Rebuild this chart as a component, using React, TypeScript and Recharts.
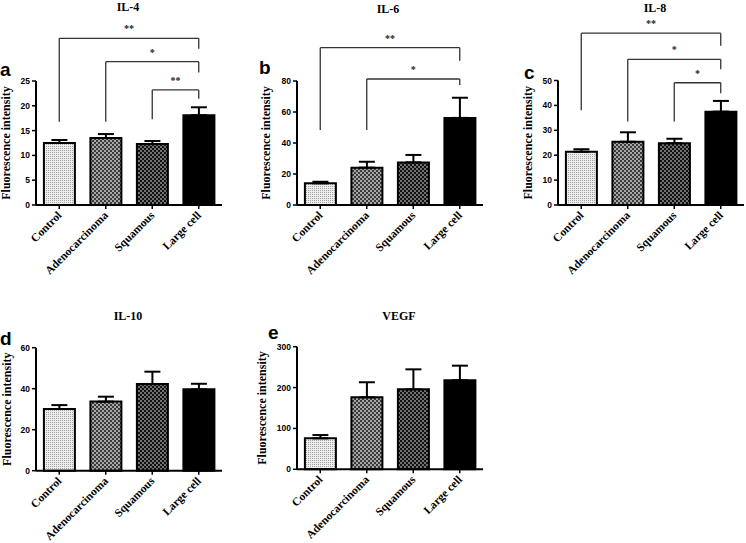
import React from 'react';
import { BarChart, Bar, XAxis, YAxis, ErrorBar, ReferenceLine, Cell } from 'recharts';

const groups = ['Control', 'Adenocarcinoma', 'Squamous', 'Large cell'];

// IL-4
const il4Mean = [12.5, 13.5, 12.3, 18.1];
const il4Sem = [0.6, 0.8, 0.6, 1.6];
const il4Ticks = [0, 5, 10, 15, 20, 25];
const il4Sig = [
  { from: 'Control', to: 'Large cell', top: 33.6, leftEnd: 16.8, rightEnd: 31.5, mark: '**' },
  { from: 'Adenocarcinoma', to: 'Large cell', top: 28.9, leftEnd: 16.8, rightEnd: 26.7, mark: '*' },
  { from: 'Squamous', to: 'Large cell', top: 23.2, leftEnd: 17.3, rightEnd: 21.4, mark: '**' },
];

// IL-6
const il6Mean = [14.0, 24.1, 27.5, 56.2];
const il6Sem = [1.0, 3.8, 4.8, 13.0];
const il6Ticks = [0, 20, 40, 60, 80];
const il6Sig = [
  { from: 'Control', to: 'Large cell', top: 101.5, leftEnd: 48.4, rightEnd: 93.1, mark: '**' },
  { from: 'Adenocarcinoma', to: 'Large cell', top: 81.3, leftEnd: 48.4, rightEnd: 77.4, mark: '*' },
];

// IL-8
const il8Mean = [21.4, 25.4, 24.8, 37.5];
const il8Sem = [1.0, 3.8, 1.8, 4.3];
const il8Ticks = [0, 10, 20, 30, 40, 50];
const il8Sig = [
  { from: 'Control', to: 'Large cell', top: 69, leftEnd: 38.1, rightEnd: 64, mark: '**' },
  { from: 'Adenocarcinoma', to: 'Large cell', top: 58.5, leftEnd: 33.5, rightEnd: 54.5, mark: '*' },
  { from: 'Squamous', to: 'Large cell', top: 49.1, leftEnd: 33.5, rightEnd: 44.9, mark: '*' },
];

// IL-10
const il10Mean = [30.1, 33.7, 42.3, 39.7];
const il10Sem = [1.9, 2.4, 6.0, 2.7];
const il10Ticks = [0, 20, 40, 60];

// VEGF
const vegfMean = [75.8, 176, 195.6, 217.6];
const vegfSem = [8, 37, 49, 36];
const vegfTicks = [0, 100, 200, 300];

const serif = "'Liberation Serif', 'Times New Roman', serif";
const sans = "'Liberation Sans', Arial, sans-serif";

const SlantTick = (props: any) => {
  const { x, y, payload } = props;
  const tx = x + 3;
  const ty = y + 5;
  return (
    <text
      x={tx}
      y={ty}
      transform={`rotate(-45, ${tx}, ${ty})`}
      textAnchor="end"
      fontFamily={serif}
      fontWeight="bold"
      fontSize={11.5}
      fill="#000"
    >
      {payload.value}
    </text>
  );
};

const Patterns = ({ id }: { id: string }) => (
  <defs>
    <pattern id={`${id}-p0`} width="2" height="2" patternUnits="userSpaceOnUse">
      <rect width="2" height="2" fill="#ececec" />
      <rect width="1" height="1" fill="#a4a4a4" />
    </pattern>
    <pattern id={`${id}-p1`} width="4" height="4" patternUnits="userSpaceOnUse">
      <rect width="4" height="4" fill="#a6a6a6" />
      <rect width="2" height="2" fill="#3a3a3a" />
      <rect x="2" y="2" width="2" height="2" fill="#3a3a3a" />
    </pattern>
    <pattern id={`${id}-p2`} width="4" height="4" patternUnits="userSpaceOnUse">
      <rect width="4" height="4" fill="#727272" />
      <rect width="2" height="2" fill="#111" />
      <rect x="2" y="2" width="2" height="2" fill="#111" />
    </pattern>
    <pattern id={`${id}-p3`} width="2" height="2" patternUnits="userSpaceOnUse">
      <rect width="2" height="2" fill="#000" />
    </pattern>
  </defs>
);

const Panel = (props: any) => {
  const { id, mean, sem, ticks, sig = [], left, top, width, height, margin, axisWidth, labelOffset } = props;
  const data = groups.map((name, i) => ({ name, value: mean[i], err: [0, sem[i]] }));

  return (
    <div style={{ position: 'absolute', left, top }}>
      <BarChart width={width} height={height} data={data} margin={margin} barCategoryGap="17%">
        <Patterns id={id} />
        <XAxis
          dataKey="name"
          height={30}
          interval={0}
          tick={<SlantTick />}
          tickSize={4}
          axisLine={{ stroke: '#000', strokeWidth: 2 }}
          tickLine={{ stroke: '#000', strokeWidth: 1.5 }}
        />
        <YAxis
          width={axisWidth}
          domain={[0, ticks[ticks.length - 1]]}
          ticks={ticks}
          interval={0}
          tickSize={4}
          tickMargin={2}
          axisLine={{ stroke: '#000', strokeWidth: 2 }}
          tickLine={{ stroke: '#000', strokeWidth: 1.5 }}
          tick={{ fontFamily: sans, fontWeight: 'bold', fontSize: 8.5, fill: '#000' }}
          label={{
            value: 'Fluorescence intensity',
            angle: -90,
            position: 'insideLeft',
            offset: labelOffset,
            style: { textAnchor: 'middle', fontFamily: serif, fontWeight: 'bold', fontSize: 12, fill: '#000' },
          }}
        />
        <Bar dataKey="value" isAnimationActive={false} stroke="#000" strokeWidth={2}>
          {data.map((d, i) => (
            <Cell key={d.name} fill={`url(#${id}-p${i})`} />
          ))}
          <ErrorBar dataKey="err" width={8} stroke="#000" strokeWidth={2} isAnimationActive={false} />
        </Bar>
        {sig.flatMap((s: any, i: number) => [
          <ReferenceLine
            key={`l${i}`}
            segment={[{ x: s.from, y: s.leftEnd }, { x: s.from, y: s.top }]}
            ifOverflow="visible"
            stroke="#333"
            strokeWidth={1.3}
          />,
          <ReferenceLine
            key={`t${i}`}
            segment={[{ x: s.from, y: s.top }, { x: s.to, y: s.top }]}
            ifOverflow="visible"
            stroke="#333"
            strokeWidth={1.3}
            label={{ value: s.mark, position: 'top', offset: 6, fontFamily: serif, fontWeight: 'bold', fontSize: 10, fill: '#222' }}
          />,
          <ReferenceLine
            key={`r${i}`}
            segment={[{ x: s.to, y: s.top }, { x: s.to, y: s.rightEnd }]}
            ifOverflow="visible"
            stroke="#333"
            strokeWidth={1.3}
          />,
        ])}
      </BarChart>
    </div>
  );
};

const titleStyle = { fontFamily: serif, fontWeight: 'bold' as const, fontSize: 12, fill: '#000' };
const letterStyle = { fontFamily: sans, fontWeight: 'bold' as const, fontSize: 19, fill: '#000' };

export default function App() {
  return (
    <div style={{ position: 'absolute', left: 0, top: 0, width: 746, height: 543, background: '#fff', overflow: 'hidden' }}>
      <Panel id="il4" mean={il4Mean} sem={il4Sem} ticks={il4Ticks} sig={il4Sig}
        left={0} top={0} width={240} height={290} axisWidth={36} labelOffset={6}
        margin={{ top: 81, right: 18, bottom: 55, left: 0 }} />
      <Panel id="il6" mean={il6Mean} sem={il6Sem} ticks={il6Ticks} sig={il6Sig}
        left={250} top={0} width={250} height={290} axisWidth={47} labelOffset={15.5}
        margin={{ top: 81, right: 17, bottom: 55, left: 0 }} />
      <Panel id="il8" mean={il8Mean} sem={il8Sem} ticks={il8Ticks} sig={il8Sig}
        left={500} top={0} width={246} height={290} axisWidth={58} labelOffset={27.5}
        margin={{ top: 80.5, right: 2, bottom: 55, left: 0 }} />
      <Panel id="il10" mean={il10Mean} sem={il10Sem} ticks={il10Ticks}
        left={0} top={270} width={240} height={273} axisWidth={36} labelOffset={7}
        margin={{ top: 77.7, right: 18, bottom: 42.3, left: 0 }} />
      <Panel id="vegf" mean={vegfMean} sem={vegfSem} ticks={vegfTicks}
        left={250} top={270} width={250} height={273} axisWidth={47} labelOffset={12}
        margin={{ top: 76.7, right: 17, bottom: 43.7, left: 0 }} />
      <svg width={746} height={543} style={{ position: 'absolute', left: 0, top: 0, pointerEvents: 'none' }}>
        <text x={128} y={11} textAnchor="middle" {...titleStyle}>IL-4</text>
        <text x={388} y={13} textAnchor="middle" {...titleStyle}>IL-6</text>
        <text x={655} y={12} textAnchor="middle" {...titleStyle}>IL-8</text>
        <text x={128} y={320} textAnchor="middle" {...titleStyle}>IL-10</text>
        <text x={399} y={320} textAnchor="middle" {...titleStyle}>VEGF</text>
        <text x={0} y={76} {...letterStyle}>a</text>
        <text x={259} y={74} {...letterStyle}>b</text>
        <text x={524} y={79} {...letterStyle}>c</text>
        <text x={0} y={345} {...letterStyle}>d</text>
        <text x={268} y={339} {...letterStyle}>e</text>
      </svg>
    </div>
  );
}
